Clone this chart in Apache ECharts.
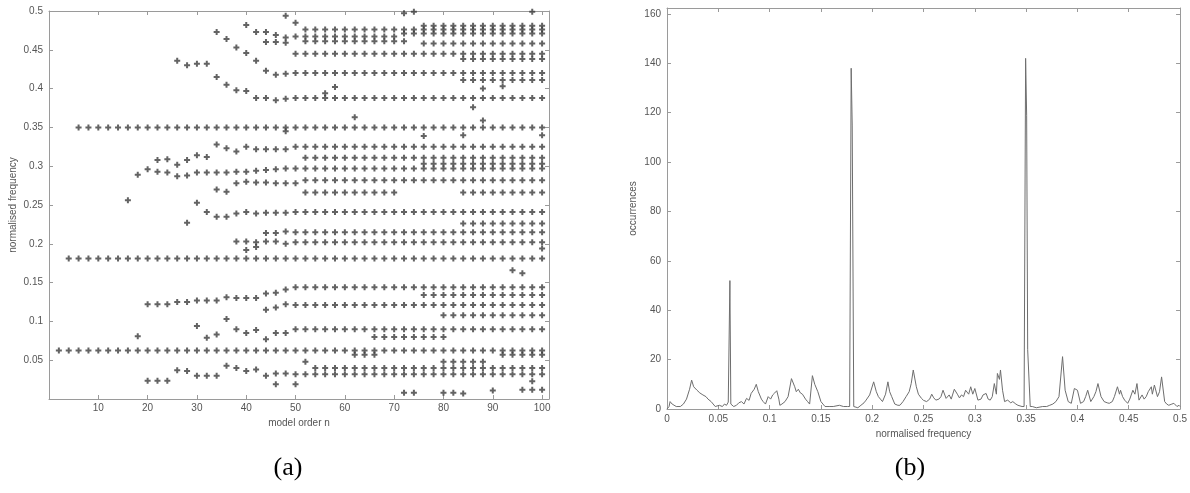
<!DOCTYPE html>
<html>
<head>
<meta charset="utf-8">
<script src="https://cdn.jsdelivr.net/npm/echarts@6/dist/echarts.min.js"></script>
<style>
html, body { margin: 0; padding: 0; background: #fff; }
#main { width: 1190px; height: 493px; }
</style>
</head>
<body>
<div id="main"></div>
<script>
// (a) rows of markers that stay put: [frequency, first order, last order], one marker every 2nd order
const poleRuns = [
  [0.0625, 2, 100], [0.181, 4, 100], [0.35, 6, 100],
  [0.481, 76, 100], [0.476, 52, 100], [0.467, 50, 70], [0.471, 72, 100], [0.461, 52, 72],
  [0.458, 76, 100], [0.445, 52, 100], [0.438, 84, 100], [0.420, 50, 100], [0.411, 84, 100],
  [0.388, 50, 100], [0.325, 50, 100], [0.311, 52, 100], [0.303, 76, 100], [0.297, 50, 100],
  [0.282, 52, 100], [0.266, 52, 70], [0.266, 84, 100], [0.241, 50, 100], [0.226, 84, 100],
  [0.215, 50, 100], [0.202, 50, 100], [0.144, 50, 100], [0.134, 76, 100], [0.121, 50, 100],
  [0.108, 80, 100], [0.090, 50, 100], [0.080, 66, 80], [0.048, 80, 88], [0.040, 54, 100],
  [0.032, 50, 100], [0.012, 96, 100]
];

// (a) drifting tracks at low orders and odd single markers: [order, frequency]
const poleTracks = [
  [26, 0.436], [28, 0.430], [30, 0.432], [32, 0.432],
  [34, 0.473], [36, 0.464], [38, 0.453], [40, 0.446], [42, 0.436], [44, 0.423], [46, 0.418], [48, 0.419],
  [34, 0.415], [36, 0.405], [38, 0.398], [40, 0.397], [42, 0.388], [44, 0.388], [46, 0.385], [48, 0.387],
  [40, 0.482], [42, 0.473], [44, 0.473], [46, 0.469], [48, 0.466],
  [44, 0.460], [46, 0.460], [48, 0.459],
  [48, 0.494], [50, 0.485], [50, 0.445],
  [72, 0.497], [74, 0.499], [98, 0.499],
  [56, 0.394], [58, 0.402], [88, 0.400], [92, 0.403],
  [86, 0.376], [62, 0.363], [88, 0.359],
  [48, 0.345], [76, 0.339], [84, 0.340], [100, 0.340],
  [34, 0.328], [36, 0.323], [38, 0.319], [40, 0.325], [42, 0.322], [44, 0.322], [46, 0.322], [48, 0.322],
  [22, 0.308], [24, 0.309], [26, 0.302], [28, 0.308], [30, 0.314], [32, 0.312],
  [18, 0.289], [20, 0.296], [22, 0.293], [24, 0.292], [26, 0.287], [28, 0.288], [30, 0.292], [32, 0.292],
  [34, 0.292], [36, 0.292], [38, 0.293], [40, 0.293], [42, 0.294], [44, 0.295], [46, 0.296], [48, 0.297],
  [34, 0.270], [36, 0.267], [38, 0.278], [40, 0.280], [42, 0.279], [44, 0.279], [46, 0.278], [48, 0.278], [50, 0.278],
  [16, 0.256],
  [28, 0.227], [30, 0.253], [32, 0.241], [34, 0.235], [36, 0.235], [38, 0.239], [40, 0.241], [42, 0.239],
  [44, 0.240], [46, 0.240], [48, 0.240],
  [44, 0.214], [46, 0.214], [48, 0.216],
  [38, 0.203], [40, 0.203], [42, 0.202], [44, 0.203], [46, 0.203], [48, 0.200],
  [40, 0.192], [42, 0.196], [100, 0.194], [94, 0.166], [96, 0.162],
  [20, 0.122], [22, 0.122], [24, 0.122], [26, 0.125], [28, 0.125], [30, 0.127], [32, 0.127], [34, 0.127],
  [36, 0.131], [38, 0.130], [40, 0.130], [42, 0.130], [44, 0.136], [46, 0.137], [48, 0.141],
  [44, 0.115], [46, 0.118], [48, 0.122],
  [36, 0.103], [30, 0.094],
  [38, 0.090], [40, 0.085], [42, 0.089], [44, 0.077], [46, 0.085], [48, 0.085],
  [18, 0.081], [32, 0.079], [34, 0.083],
  [62, 0.057], [64, 0.057], [66, 0.057], [92, 0.057], [94, 0.057], [96, 0.057], [98, 0.057], [100, 0.057],
  [52, 0.048],
  [20, 0.0235], [22, 0.0235], [24, 0.0235], [26, 0.037], [28, 0.036], [30, 0.030], [32, 0.030], [34, 0.030],
  [36, 0.043], [38, 0.040], [40, 0.036], [42, 0.038], [44, 0.030], [46, 0.033], [48, 0.033],
  [46, 0.019], [50, 0.019], [98, 0.023], [90, 0.011],
  [72, 0.008], [74, 0.008], [80, 0.008], [82, 0.008], [84, 0.007]
];

// (b) histogram of the pole frequencies: [normalised frequency, occurrences]
const occurrences = [
  [0, 0], [0.002, 1], [0.003, 3], [0.005, 2], [0.006, 2.3], [0.009, 1], [0.013, 1], [0.016, 2], [0.019, 4],
  [0.022, 8], [0.024, 11.7], [0.026, 9], [0.029, 7.7], [0.032, 6.5], [0.035, 5.7], [0.038, 5], [0.040, 4],
  [0.043, 3], [0.047, 1], [0.051, 1.5], [0.054, 1], [0.056, 2], [0.058, 1.5], [0.0597, 2.8], [0.0605, 2],
  [0.0613, 52], [0.0622, 2], [0.0629, 2], [0.065, 1], [0.0677, 1.5], [0.070, 2.5], [0.0726, 3], [0.075, 2],
  [0.0775, 4.3], [0.080, 3.5], [0.082, 6.3], [0.085, 8], [0.087, 10], [0.089, 7], [0.090, 6.3], [0.092, 4],
  [0.0937, 3], [0.096, 2], [0.0986, 5], [0.101, 4], [0.103, 5.7], [0.105, 6.5], [0.107, 7.4], [0.109, 4],
  [0.110, 1.5], [0.112, 2], [0.115, 3], [0.118, 5], [0.1213, 12.3], [0.1245, 9], [0.126, 7], [0.128, 8],
  [0.130, 6.5], [0.132, 6], [0.135, 4], [0.137, 3], [0.139, 2], [0.1417, 13.5], [0.144, 10], [0.147, 7],
  [0.150, 3], [0.152, 2], [0.154, 1], [0.158, 1], [0.162, 1], [0.168, 1.5], [0.172, 1], [0.176, 1],
  [0.178, 1], [0.1795, 138], [0.1805, 115], [0.182, 1], [0.183, 0.3], [0.186, 0.5], [0.189, 1.5],
  [0.192, 2.5], [0.194, 3.6], [0.1975, 5.7], [0.2014, 11], [0.204, 7], [0.206, 5], [0.208, 4], [0.210, 3],
  [0.213, 6], [0.2153, 11], [0.217, 7], [0.219, 5], [0.222, 2], [0.225, 1.5], [0.227, 1.5], [0.230, 3],
  [0.233, 5], [0.236, 7], [0.238, 10.3], [0.240, 15.8], [0.243, 9], [0.245, 6], [0.248, 4.3], [0.250, 3.5],
  [0.253, 3], [0.256, 4], [0.258, 6], [0.260, 4.5], [0.262, 3.6], [0.265, 4], [0.267, 5], [0.269, 7.6],
  [0.272, 4.3], [0.275, 5.7], [0.277, 4], [0.280, 8], [0.283, 6], [0.285, 4.5], [0.287, 5.7], [0.289, 5],
  [0.291, 7.6], [0.294, 6], [0.296, 9], [0.298, 6], [0.300, 8.3], [0.303, 3.6], [0.306, 4], [0.308, 5.7],
  [0.311, 6.3], [0.313, 4], [0.315, 3.6], [0.317, 5], [0.319, 10.3], [0.321, 6], [0.322, 14.4], [0.324, 12],
  [0.325, 15.8], [0.327, 7.6], [0.329, 3], [0.332, 3.6], [0.335, 2.5], [0.337, 3], [0.340, 2], [0.342, 1.5],
  [0.346, 1], [0.348, 1], [0.3495, 142], [0.3505, 119], [0.3515, 24], [0.3525, 24], [0.354, 1], [0.356, 1],
  [0.360, 0.5], [0.366, 1], [0.370, 1], [0.373, 1.5], [0.376, 2], [0.379, 3], [0.382, 5], [0.3855, 21.2],
  [0.388, 7.6], [0.391, 3], [0.394, 2.3], [0.397, 8.3], [0.400, 7.6], [0.403, 2.3], [0.406, 3], [0.408, 5],
  [0.410, 7.6], [0.413, 3], [0.416, 5], [0.418, 7], [0.420, 10.3], [0.423, 5], [0.426, 3], [0.429, 2.5],
  [0.431, 2.3], [0.434, 3], [0.436, 5], [0.439, 9], [0.441, 6], [0.442, 7.6], [0.444, 5], [0.446, 3.6],
  [0.449, 2.3], [0.451, 4], [0.454, 7.6], [0.456, 6], [0.458, 10.3], [0.460, 3.6], [0.463, 5.7], [0.465, 4],
  [0.467, 5], [0.469, 7], [0.472, 9], [0.473, 6], [0.475, 9.7], [0.478, 5], [0.480, 7], [0.482, 13],
  [0.485, 3], [0.487, 2], [0.489, 1.5], [0.492, 2], [0.494, 2.3], [0.497, 1], [0.499, 1.5], [0.5, 1]
];

// tick labels that are printed
const orderLabels = [10, 20, 30, 40, 50, 60, 70, 80, 90, 100];
const freqLabelsA = [0.05, 0.1, 0.15, 0.2, 0.25, 0.3, 0.35, 0.4, 0.45, 0.5];
const freqLabelsB = [0, 0.05, 0.1, 0.15, 0.2, 0.25, 0.3, 0.35, 0.4, 0.45, 0.5];
const countLabels = [0, 20, 40, 60, 80, 100, 120, 140, 160];

const poleData = [];
poleRuns.forEach(([f, from, to]) => {
  for (let n = from; n <= to; n += 2) poleData.push([n, f]);
});
poleTracks.forEach(p => poleData.push(p));

function only(list) {
  return v => list.some(t => Math.abs(t - v) < 1e-9) ? String(v) : '';
}

const axisGrey = '#9a9a9a';
const labelStyle = { color: '#555', fontSize: 10, fontFamily: 'Liberation Sans' };
const nameStyle = { color: '#555', fontSize: 10, fontFamily: 'Liberation Sans' };
const plusPath = 'path://M2,0h2v2h2v2h-2v2h-2v-2h-2v-2h2z';

function axisCommon(extra) {
  return Object.assign({
    type: 'value',
    splitLine: { show: false },
    axisLine: { show: true, onZero: false, lineStyle: { color: axisGrey, width: 1 } },
    axisTick: { show: true, inside: true, length: 4, lineStyle: { color: axisGrey } },
    axisLabel: Object.assign({ margin: 5 }, labelStyle)
  }, extra);
}

function mirror(extra) {
  return axisCommon(Object.assign({ axisLabel: { show: false } }, extra));
}

const chart = echarts.init(document.getElementById('main'));
chart.setOption({
  backgroundColor: '#fff',
  animation: false,
  grid: [
    { left: 49, top: 11, width: 500, height: 388 },
    { left: 667, top: 8, width: 515, height: 401 }
  ],
  xAxis: [
    axisCommon({ gridIndex: 0, min: 0, max: 101.4, interval: 10,
      name: 'model order n', nameLocation: 'middle', nameGap: 18, nameTextStyle: nameStyle,
      axisLabel: Object.assign({ margin: 4, formatter: only(orderLabels) }, labelStyle) }),
    mirror({ gridIndex: 0, position: 'top', min: 0, max: 101.4, interval: 10 }),
    axisCommon({ gridIndex: 1, min: 0, max: 0.5, interval: 0.05,
      name: 'normalised frequency', nameLocation: 'middle', nameGap: 19, nameTextStyle: nameStyle,
      axisLabel: Object.assign({ margin: 5, formatter: only(freqLabelsB) }, labelStyle) }),
    mirror({ gridIndex: 1, position: 'top', min: 0, max: 0.5, interval: 0.05 })
  ],
  yAxis: [
    axisCommon({ gridIndex: 0, min: 0, max: 0.5, interval: 0.05,
      name: 'normalised frequency', nameLocation: 'middle', nameGap: 31, nameTextStyle: nameStyle,
      axisLabel: Object.assign({ margin: 6, formatter: only(freqLabelsA) }, labelStyle) }),
    mirror({ gridIndex: 0, position: 'right', min: 0, max: 0.5, interval: 0.05 }),
    axisCommon({ gridIndex: 1, min: 0, max: 162.4, interval: 20,
      name: 'occurrences', nameLocation: 'middle', nameGap: 29, nameTextStyle: nameStyle,
      axisLabel: Object.assign({ margin: 6, formatter: only(countLabels) }, labelStyle) }),
    mirror({ gridIndex: 1, position: 'right', min: 0, max: 162.4, interval: 20 })
  ],
  series: [
    {
      type: 'scatter',
      xAxisIndex: 0, yAxisIndex: 0,
      symbol: plusPath,
      symbolSize: 6,
      itemStyle: { color: '#3c3c3c' },
      data: poleData
    },
    {
      type: 'line',
      xAxisIndex: 2, yAxisIndex: 2,
      showSymbol: false,
      lineStyle: { color: '#6e6e6e', width: 1 },
      data: occurrences
    }
  ],
  graphic: [
    { type: 'text', x: 288, y: 468, style: { text: '(a)', font: '26px "Liberation Serif"', fill: '#000', textAlign: 'center', textVerticalAlign: 'middle' } },
    { type: 'text', x: 910, y: 468, style: { text: '(b)', font: '26px "Liberation Serif"', fill: '#000', textAlign: 'center', textVerticalAlign: 'middle' } }
  ]
});
</script>
</body>
</html>
